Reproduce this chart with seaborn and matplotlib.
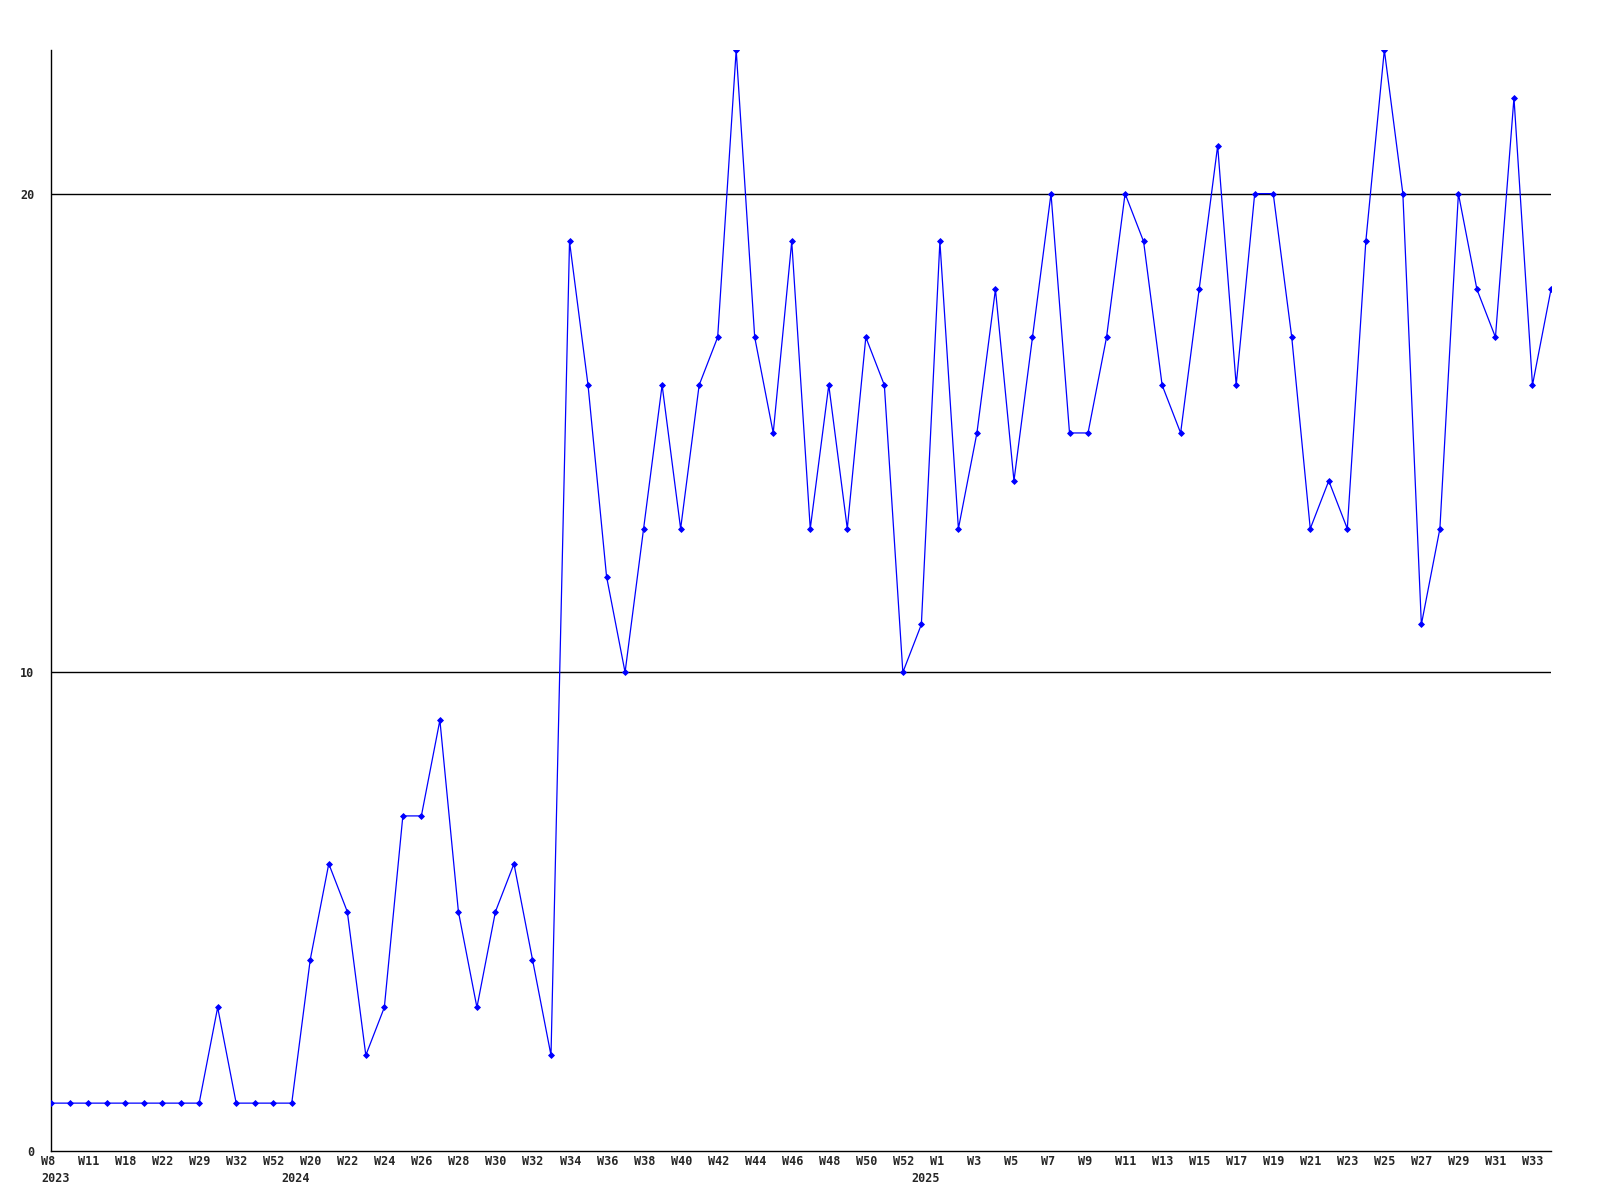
import matplotlib
matplotlib.use('Agg')
import matplotlib.pyplot as plt
import matplotlib.transforms as mtransforms
import pandas as pd
import seaborn as sns

# weekly counts, one per point (every other point gets a week label)
values = [1, 1, 1, 1, 1, 1, 1, 1, 1, 3,
          1, 1, 1, 1, 4, 6, 5, 2, 3, 7,
          7, 9, 5, 3, 5, 6, 4, 2, 19, 16,
          12, 10, 13, 16, 13, 16, 17, 23, 17, 15,
          19, 13, 16, 13, 17, 16, 10, 11, 19, 13,
          15, 18, 14, 17, 20, 15, 15, 17, 20, 19,
          16, 15, 18, 21, 16, 20, 20, 17, 13, 14,
          13, 19, 23, 20, 11, 13, 20, 18, 17, 22,
          16, 18]

week_labels = ['W8', 'W11', 'W18', 'W22', 'W29', 'W32', 'W52', 'W20', 'W22', 'W24',
               'W26', 'W28', 'W30', 'W32', 'W34', 'W36', 'W38', 'W40', 'W42', 'W44',
               'W46', 'W48', 'W50', 'W52', 'W1', 'W3', 'W5', 'W7', 'W9', 'W11',
               'W13', 'W15', 'W17', 'W19', 'W21', 'W23', 'W25', 'W27', 'W29', 'W31',
               'W33']

years = ['2023', '2024', '2025']
year_points = [0, 13, 47]

sns.set_style('white')
plt.rcParams['font.family'] = ['DejaVu Sans Mono']

df = pd.DataFrame({'point': range(len(values)), 'count': values})

fig = plt.figure(figsize=(16, 12), dpi=100)
ax = fig.add_axes([51 / 1600, 1 - 1151 / 1200, 1500 / 1600, 1101 / 1200])

# the two black reference lines
for y in (10, 20):
    ax.axhline(y, color='black', lw=1.0, zorder=1)

sns.lineplot(data=df, x='point', y='count', ax=ax, color='#0000ff', lw=0.9,
             marker='D', markersize=3.0, markeredgewidth=0.6,
             markeredgecolor='#0000ff', zorder=3)

ax.set_xlim(0, len(values) - 1)
ax.set_ylim(0, 23)
ax.set_xlabel('')
ax.set_ylabel('')

for side in ('top', 'right'):
    ax.spines[side].set_visible(False)
for side in ('left', 'bottom'):
    ax.spines[side].set_color('black')
    ax.spines[side].set_linewidth(1.0)

ax.set_yticks([0, 10, 20])
ax.set_yticklabels(['0', '10', '20'], fontsize=8.5, fontweight='bold')
ax.tick_params(axis='y', length=0, pad=12)

ax.set_xticks(range(0, len(values), 2))
ax.set_xticklabels(week_labels, fontsize=8.5, fontweight='bold', ha='left')
ax.tick_params(axis='x', length=0, pad=3)
shift = mtransforms.ScaledTranslation(-10 / 100, 0, fig.dpi_scale_trans)
for lab in ax.get_xticklabels():
    lab.set_transform(lab.get_transform() + shift)

year_shift = mtransforms.ScaledTranslation(-10 / 100, -27 / 100, fig.dpi_scale_trans)
for yr, p in zip(years, year_points):
    ax.text(p, 0, yr, transform=ax.get_xaxis_transform() + year_shift,
            ha='left', va='center', fontsize=8.5, fontweight='bold')

fig.savefig('out.png', dpi=100)
